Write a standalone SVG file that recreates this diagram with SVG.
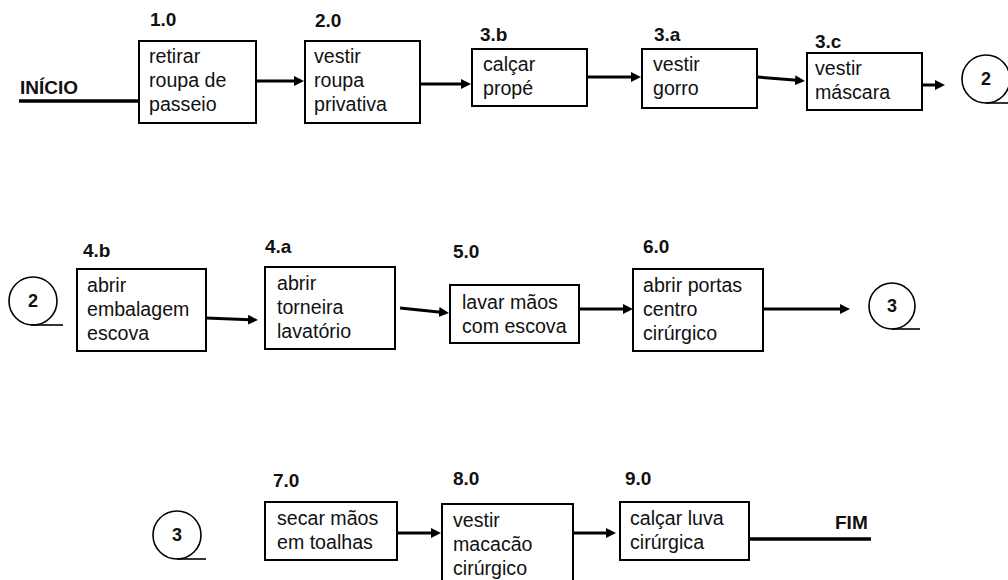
<svg xmlns="http://www.w3.org/2000/svg" width="1008" height="580" viewBox="0 0 1008 580">
<style>
.bg{fill:#fff}
.box{fill:#fff;stroke:#000;stroke-width:2}
.t{font-family:"Liberation Sans",Arial,sans-serif;font-size:19.6px;fill:#111}
.n{font-family:"Liberation Sans",Arial,sans-serif;font-size:19px;font-weight:bold;fill:#111}
.c{fill:#fff;stroke:#000;stroke-width:1.6}
.ct{font-family:"Liberation Sans",Arial,sans-serif;font-size:18px;font-weight:bold;fill:#111;text-anchor:middle}
.tl{stroke:#000;stroke-width:1.6}
.ar{stroke:#000;stroke-width:3;fill:none}
.ln{stroke:#000;stroke-width:3.5}
</style>
<defs>
<marker id="ah" markerUnits="userSpaceOnUse" markerWidth="12" markerHeight="12" refX="2" refY="5" orient="auto" viewBox="0 0 12 10">
<path d="M0,0 L10,5 L0,10 z" fill="#000"/>
</marker>
</defs>
<rect class="bg" width="1008" height="580"/>

<g id="inicio">
<text class="n" x="20" y="94">INÍCIO</text>
</g>
<g id="n1">
<text class="n" x="150" y="26">1.0</text>
<rect class="box" x="139" y="41" width="117" height="82"/>
<text class="t" x="149" y="63">retirar</text>
<text class="t" x="149" y="87">roupa de</text>
<text class="t" x="149" y="111">passeio</text>
</g>
<g id="n2">
<text class="n" x="315" y="27">2.0</text>
<rect class="box" x="305" y="41" width="115" height="82"/>
<text class="t" x="314" y="63">vestir</text>
<text class="t" x="314" y="87">roupa</text>
<text class="t" x="314" y="111">privativa</text>
</g>
<g id="n3b">
<text class="n" x="480" y="41">3.b</text>
<rect class="box" x="472" y="49" width="115" height="57"/>
<text class="t" x="483" y="71">calçar</text>
<text class="t" x="483" y="95">propé</text>
</g>
<g id="n3a">
<text class="n" x="654" y="41">3.a</text>
<rect class="box" x="642" y="49" width="115" height="59"/>
<text class="t" x="653" y="71">vestir</text>
<text class="t" x="653" y="95">gorro</text>
</g>
<g id="n3c">
<text class="n" x="815" y="48">3.c</text>
<rect class="box" x="807" y="53" width="115" height="57"/>
<text class="t" x="815" y="75">vestir</text>
<text class="t" x="815" y="99">máscara</text>
</g>
<g id="c2a">
<circle class="c" cx="986" cy="79" r="24"/>
<line class="tl" x1="986" y1="103" x2="1008" y2="103"/>
<text class="ct" x="986" y="85">2</text>
</g>

<g id="c2b">
<circle class="c" cx="33" cy="301" r="24"/>
<line class="tl" x1="31" y1="325" x2="63" y2="325"/>
<text class="ct" x="33" y="307">2</text>
</g>
<g id="n4b">
<text class="n" x="83" y="257">4.b</text>
<rect class="box" x="77" y="269" width="129" height="82"/>
<text class="t" x="87" y="292">abrir</text>
<text class="t" x="87" y="316">embalagem</text>
<text class="t" x="87" y="340">escova</text>
</g>
<g id="n4a">
<text class="n" x="265" y="253">4.a</text>
<rect class="box" x="265" y="267" width="130" height="82"/>
<text class="t" x="277" y="290">abrir</text>
<text class="t" x="277" y="314">torneira</text>
<text class="t" x="277" y="338">lavatório</text>
</g>
<g id="n5">
<text class="n" x="453" y="258">5.0</text>
<rect class="box" x="450" y="285" width="129" height="58"/>
<text class="t" x="462" y="309">lavar mãos</text>
<text class="t" x="462" y="333">com escova</text>
</g>
<g id="n6">
<text class="n" x="643" y="253">6.0</text>
<rect class="box" x="633" y="269" width="130" height="82"/>
<text class="t" x="643" y="292">abrir portas</text>
<text class="t" x="643" y="316">centro</text>
<text class="t" x="643" y="340">cirúrgico</text>
</g>
<g id="c3a">
<circle class="c" cx="892" cy="306" r="23"/>
<line class="tl" x1="892" y1="329" x2="920" y2="329"/>
<text class="ct" x="892" y="312">3</text>
</g>

<g id="c3b">
<circle class="c" cx="177" cy="535" r="24"/>
<line class="tl" x1="177" y1="559" x2="206" y2="559"/>
<text class="ct" x="177" y="541">3</text>
</g>
<g id="n7">
<text class="n" x="273" y="487">7.0</text>
<rect class="box" x="265" y="502" width="132" height="58"/>
<text class="t" x="277" y="525">secar mãos</text>
<text class="t" x="277" y="549">em toalhas</text>
</g>
<g id="n8">
<text class="n" x="453" y="485">8.0</text>
<rect class="box" x="442" y="504" width="131" height="90"/>
<text class="t" x="453" y="527">vestir</text>
<text class="t" x="453" y="551">macacão</text>
<text class="t" x="453" y="575">cirúrgico</text>
</g>
<g id="n9">
<text class="n" x="625" y="485">9.0</text>
<rect class="box" x="620" y="502" width="129" height="58"/>
<text class="t" x="630" y="525">calçar luva</text>
<text class="t" x="630" y="549">cirúrgica</text>
</g>
<g id="fim">
<text class="n" x="835" y="529">FIM</text>
</g>

<g id="connectors">
<line class="ln" x1="19" y1="101" x2="139" y2="101"/>
<line class="ln" x1="749" y1="539" x2="871" y2="539"/>
<line class="ar" x1="256" y1="81" x2="296" y2="81" marker-end="url(#ah)"/>
<line class="ar" x1="421" y1="84" x2="463" y2="84" marker-end="url(#ah)"/>
<line class="ar" x1="587" y1="77" x2="633" y2="77" marker-end="url(#ah)"/>
<line class="ar" x1="757" y1="77" x2="797" y2="80.3" marker-end="url(#ah)"/>
<line class="ar" x1="922" y1="85" x2="937" y2="85" marker-end="url(#ah)"/>
<line class="ar" x1="206" y1="318" x2="250" y2="319.7" marker-end="url(#ah)"/>
<line class="ar" x1="400" y1="308" x2="441" y2="312.2" marker-end="url(#ah)"/>
<line class="ar" x1="579" y1="309" x2="625" y2="309" marker-end="url(#ah)"/>
<line class="ar" x1="763" y1="309" x2="842" y2="309" marker-end="url(#ah)"/>
<line class="ar" x1="397" y1="533" x2="433" y2="533" marker-end="url(#ah)"/>
<line class="ar" x1="573" y1="533" x2="608" y2="533" marker-end="url(#ah)"/>
</g>
</svg>
